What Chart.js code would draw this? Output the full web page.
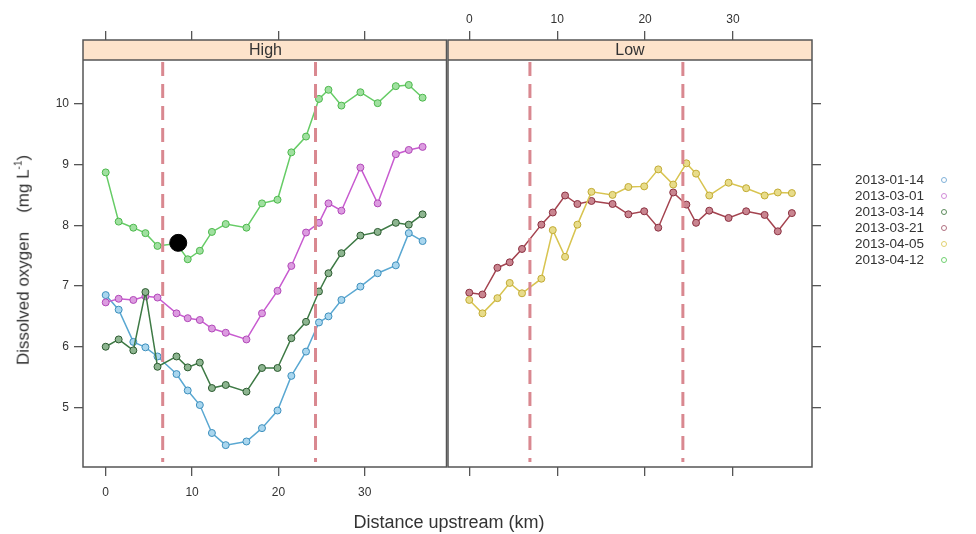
<!DOCTYPE html>
<html>
<head>
<meta charset="utf-8">
<title>Dissolved oxygen by distance upstream</title>
<script src="https://cdn.jsdelivr.net/npm/chart.js@4.4.1/dist/chart.umd.min.js"></script>
<style>
  html, body { margin: 0; padding: 0; background: #fff; }
  #wrap { position: relative; width: 976px; height: 534px; overflow: hidden;
          font-family: "Liberation Sans", Arial, sans-serif; color: #333; }
  canvas { position: absolute; top: 0; }
  #highCanvas { left: 0; }
  #lowCanvas { left: 440px; }
  .strip { position: absolute; top: 40px; height: 20px; line-height: 20px;
           text-align: center; font-size: 16px; color: #333; }
  #xTitle { position: absolute; left: 249px; width: 400px; top: 512px;
            text-align: center; font-size: 18px; }
  #yTitle { position: absolute; left: 23px; top: 260px; white-space: nowrap;
            font-size: 17px; transform: translate(-50%, -50%) rotate(-90deg); }
  #yTitle sup { font-size: 10px; }
  #legend { position: absolute; left: 800px; top: 172px; font-size: 13.5px; line-height: 16px; }
  #legend .row { display: flex; align-items: center; justify-content: flex-end; width: 147px; }
  #legend .dot { display: inline-block; width: 4px; height: 4px; border-radius: 50%;
                 border: 1.3px solid; margin-left: 17px; }
</style>
</head>
<body>
<div id="wrap">
  <canvas id="highCanvas" width="456" height="534"></canvas>
  <canvas id="lowCanvas" width="536" height="534"></canvas>
  <div class="strip" style="left:83px;width:365px;">High</div>
  <div class="strip" style="left:448px;width:364px;">Low</div>
  <div id="xTitle">Distance upstream (km)</div>
  <div id="yTitle">Dissolved oxygen&nbsp;&nbsp;&nbsp; (mg L<sup>-1</sup>)</div>
  <div id="legend"></div>
</div>
<script>
// ============================================
// Data
// ============================================

// sampling sites, km upstream
const siteKm = [0, 1.5, 3.2, 4.6, 6.0, 8.2, 9.5, 10.9, 12.3, 13.9, 16.3, 18.1,
                19.9, 21.5, 23.2, 24.7, 25.8, 27.3, 29.5, 31.5, 33.6, 35.1, 36.7];

// High flow panel
const do20130114 = [6.85, 6.61, 6.08, 5.99, 5.84, 5.55, 5.28, 5.04, 4.58, 4.38, 4.44, 4.66,
                    4.95, 5.52, 5.92, 6.40, 6.50, 6.77, 6.99, 7.21, 7.34, 7.87, 7.74];
const do20130301 = [6.73, 6.79, 6.77, 6.83, 6.81, 6.55, 6.47, 6.44, 6.30, 6.23, 6.12, 6.55,
                    6.92, 7.33, 7.88, 8.04, 8.36, 8.24, 8.95, 8.36, 9.17, 9.24, 9.29];
const do20130314 = [6.00, 6.12, 5.94, 6.90, 5.67, 5.84, 5.66, 5.74, 5.32, 5.37, 5.26, 5.65,
                    5.65, 6.14, 6.41, 6.91, 7.21, 7.54, 7.83, 7.89, 8.04, 8.01, 8.18];
const do20130412 = [8.87, 8.06, 7.96, 7.87, 7.66, 7.70, 7.44, 7.58, 7.89, 8.02, 7.96, 8.36,
                    8.42, 9.20, 9.46, 10.08, 10.23, 9.97, 10.19, 10.01, 10.29, 10.31, 10.10];

// Low flow panel
const do20130321 = [6.89, 6.86, 7.30, 7.39, 7.61, 8.01, 8.21, 8.49, 8.35, 8.40, 8.35, 8.18,
                    8.23, 7.96, 8.54, 8.34, 8.04, 8.24, 8.12, 8.23, 8.17, 7.90, 8.20];
const do20130405 = [6.77, 6.55, 6.80, 7.05, 6.88, 7.12, 7.92, 7.48, 8.01, 8.55, 8.50, 8.63,
                    8.64, 8.92, 8.67, 9.02, 8.85, 8.49, 8.70, 8.61, 8.49, 8.54, 8.53];

// highlighted point in the High panel
const markerKm = [8.4];
const markerDO = [7.71];

// reach boundaries (dashed lines), km
const highCutsKm = [6.6, 24.3];
const lowCutsKm = [6.9, 24.3];

// axes
const xTicks = [0, 10, 20, 30];
const yTicks = [5, 6, 7, 8, 9, 10];
const highXRange = [-2.63, 39.47];
const lowXRange = [-2.42, 38.99];
const yRange = [4.02, 11.05];

const legendDates = ['2013-01-14', '2013-03-01', '2013-03-14', '2013-03-21', '2013-04-05', '2013-04-12'];

// ============================================
// Styles
// ============================================

const FONT = '"Liberation Sans", Arial, sans-serif';
const AXIS_COLOR = '#555';
const STRIP_H = 20;

const seriesStyle = {
  '2013-01-14': { line: '#5aa8d2', edge: '#3d8fbd', fill: '#a9d6ee', key: '#7fb0d8' },
  '2013-03-01': { line: '#c85bd0', edge: '#b148b8', fill: '#dc9ce0', key: '#d08ad8' },
  '2013-03-14': { line: '#3e7a45', edge: '#2c5a30', fill: '#8db590', key: '#5a8a5a' },
  '2013-03-21': { line: '#a4434f', edge: '#8a3040', fill: '#c98590', key: '#b07080' },
  '2013-04-05': { line: '#d8c450', edge: '#c2ab35', fill: '#e8dc8a', key: '#e0d070' },
  '2013-04-12': { line: '#66cc66', edge: '#4cb84c', fill: '#a0e0a0', key: '#70d070' }
};

// ============================================
// Helpers
// ============================================

function seriesDataset(date, values, order) {
  const s = seriesStyle[date];
  return {
    label: date,
    data: siteKm.map((x, i) => ({ x, y: values[i] })),
    borderColor: s.line,
    borderWidth: 1.5,
    backgroundColor: s.fill,
    pointBackgroundColor: s.fill,
    pointBorderColor: s.edge,
    pointBorderWidth: 1,
    pointRadius: 3.5,
    tension: 0,
    order
  };
}

// frame, strip and dashed reach boundaries for one lattice panel
const panelFrame = {
  id: 'panelFrame',
  afterDatasetsDraw(chart, args, opts) {
    const { ctx, chartArea: a } = chart;
    const xs = chart.scales.x;
    ctx.save();
    // dashed boundaries
    ctx.strokeStyle = '#d98890';
    ctx.lineWidth = 3;
    ctx.setLineDash([14, 8]);
    (opts.cuts || []).forEach(km => {
      const px = xs.getPixelForValue(km);
      ctx.beginPath();
      ctx.moveTo(px, a.top + STRIP_H + 2);
      ctx.lineTo(px, a.bottom - 5);
      ctx.stroke();
    });
    ctx.setLineDash([]);
    // strip
    ctx.fillStyle = '#fde3cb';
    ctx.fillRect(a.left, a.top, a.right - a.left, STRIP_H);
    ctx.strokeStyle = AXIS_COLOR;
    ctx.lineWidth = 1.5;
    ctx.beginPath();
    ctx.moveTo(a.left, a.top + STRIP_H);
    ctx.lineTo(a.right, a.top + STRIP_H);
    ctx.stroke();
    ctx.strokeRect(a.left, a.top, a.right - a.left, a.bottom - a.top);
    ctx.restore();
  }
};

function tickGrid() {
  return { drawOnChartArea: false, drawTicks: true, tickLength: 9, color: AXIS_COLOR, lineWidth: 1.3 };
}

function makeScales(xRange, showBottom, showTop, yOnRight) {
  const font = { family: FONT, size: 12 };
  const fixTicks = list => scale => { scale.ticks = list.map(v => ({ value: v })); };
  return {
    x: {
      type: 'linear', position: 'bottom', min: xRange[0], max: xRange[1],
      border: { display: false }, grid: tickGrid(),
      afterBuildTicks: fixTicks(xTicks),
      afterFit: s => { s.height = 67; },
      ticks: { font, color: showBottom ? '#333' : 'rgba(0,0,0,0)', padding: 9, maxRotation: 0 }
    },
    xTop: {
      type: 'linear', position: 'top', min: xRange[0], max: xRange[1],
      border: { display: false }, grid: tickGrid(),
      afterBuildTicks: fixTicks(xTicks),
      afterFit: s => { s.height = 40; },
      ticks: { font, color: showTop ? '#333' : 'rgba(0,0,0,0)', padding: 4, maxRotation: 0 }
    },
    y: {
      type: 'linear', position: yOnRight ? 'right' : 'left', min: yRange[0], max: yRange[1],
      border: { display: false }, grid: tickGrid(),
      afterBuildTicks: fixTicks(yTicks),
      afterFit: s => { s.width = yOnRight ? 164 : 83; },
      ticks: { font, color: yOnRight ? 'rgba(0,0,0,0)' : '#333', padding: 5 }
    }
  };
}

function renderPanel(canvasId, datasets, xRange, cuts, opts) {
  const ctx = document.getElementById(canvasId);
  return new Chart(ctx, {
    type: 'line',
    data: { datasets },
    options: {
      responsive: false,
      animation: false,
      events: [],
      layout: { padding: opts.padding },
      plugins: {
        legend: { display: false },
        tooltip: { enabled: false },
        panelFrame: { cuts }
      },
      scales: makeScales(xRange, opts.showBottom, opts.showTop, opts.yOnRight)
    },
    plugins: [panelFrame]
  });
}

// ============================================
// Panels
// ============================================

const highDatasets = [
  seriesDataset('2013-01-14', do20130114, 6),
  seriesDataset('2013-03-01', do20130301, 5),
  seriesDataset('2013-03-14', do20130314, 4),
  seriesDataset('2013-04-12', do20130412, 1),
  {
    label: 'marker',
    data: markerKm.map((x, i) => ({ x, y: markerDO[i] })),
    showLine: false,
    pointRadius: 8.5,
    pointBackgroundColor: '#000',
    pointBorderColor: '#000',
    order: 0
  }
];

const lowDatasets = [
  seriesDataset('2013-03-21', do20130321, 3),
  seriesDataset('2013-04-05', do20130405, 2)
];

renderPanel('highCanvas', highDatasets, highXRange, highCutsKm,
  { padding: { right: 8 }, showBottom: true, showTop: false, yOnRight: false });
renderPanel('lowCanvas', lowDatasets, lowXRange, lowCutsKm,
  { padding: { left: 8 }, showBottom: false, showTop: true, yOnRight: true });

// ============================================
// Legend
// ============================================

document.getElementById('legend').innerHTML = legendDates.map(d =>
  `<div class="row"><span>${d}</span><span class="dot" style="border-color:${seriesStyle[d].key}"></span></div>`
).join('');
</script>
</body>
</html>
